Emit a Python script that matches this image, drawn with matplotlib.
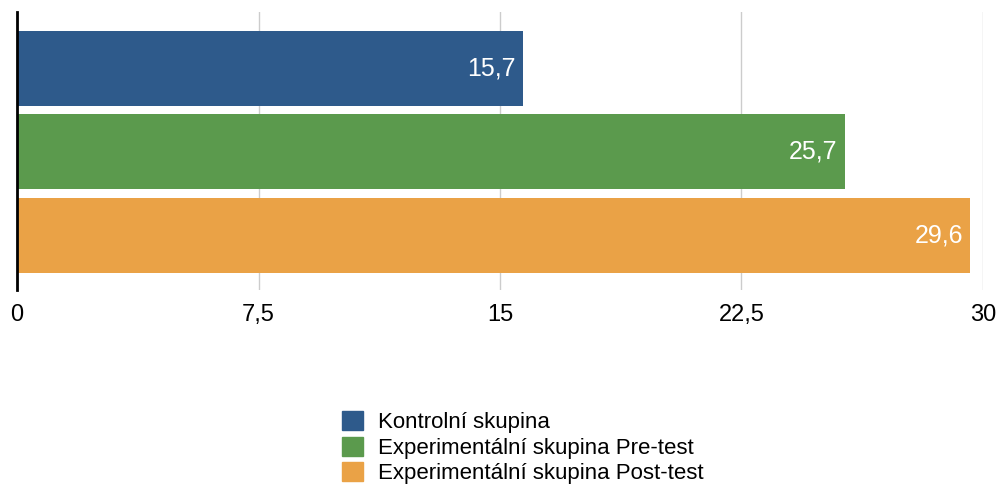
import matplotlib.pyplot as plt
from matplotlib.patches import Patch

plt.rcParams['font.family'] = ['Liberation Sans', 'DejaVu Sans']

groups = ["Kontrolní skupina", "Experimentální skupina Pre-test", "Experimentální skupina Post-test"]
values = [15.7, 25.7, 29.6]
colors = ["#2e5a8b", "#5b9a4d", "#eaa246"]
xticks = [0, 7.5, 15, 22.5, 30]

fig = plt.figure(figsize=(9.99, 4.86), dpi=100)
ax = fig.add_axes([17/999, 1 - 290/486, 966/999, 278/486])

pos = list(range(len(values)))
ax.barh(pos, values, height=0.9, color=colors, zorder=2)
for y, v in zip(pos, values):
    ax.annotate(f"{v:.1f}".replace(".", ","), (v, y), xytext=(-5, 0),
                textcoords="offset points", ha="right", va="center",
                color="white", fontsize=18)

ax.set_xlim(0, 30)
ax.set_ylim(2.655, -0.677)
ax.set_xticks(xticks)
ax.set_xticklabels([f"{t:g}".replace(".", ",") for t in xticks], fontsize=17)
ax.tick_params(axis="x", length=0, pad=10)
ax.set_yticks([])
ax.grid(axis="x", color="#cccccc", linewidth=1, zorder=0)
for s in ["top", "right", "bottom"]:
    ax.spines[s].set_visible(False)
ax.spines["left"].set_color("black")
ax.spines["left"].set_linewidth(2)
ax.spines["left"].set_zorder(3)

handles = [Patch(color=c, label=g) for c, g in zip(colors, groups)]
fig.legend(handles=handles, loc="upper left", bbox_to_anchor=(342/999, 1 - 411/486),
           frameon=False, fontsize=16, handlelength=0.95, handleheight=0.95,
           handletextpad=0.68, labelspacing=0.15, borderaxespad=0, borderpad=0)

fig.savefig("out.png", dpi=100)
